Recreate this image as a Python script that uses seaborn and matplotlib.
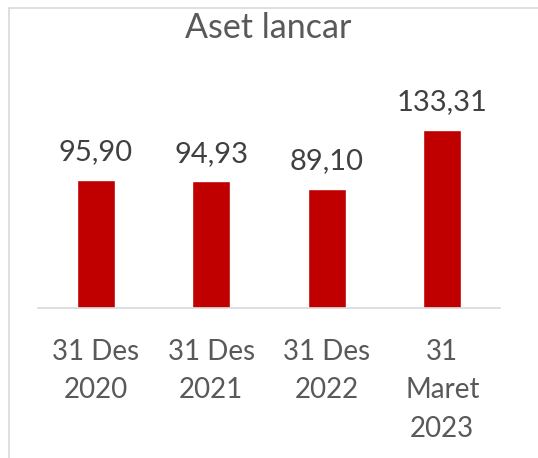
import matplotlib
matplotlib.use("Agg")
import matplotlib.pyplot as plt
import seaborn as sns
import pandas as pd
from matplotlib.patches import Rectangle

categories = ["31 Des\n2020", "31 Des\n2021", "31 Des\n2022", "31\nMaret\n2023"]
values = [95.90, 94.93, 89.10, 133.31]
value_labels = ["95,90", "94,93", "89,10", "133,31"]

BAR_COLOR = "#C00000"
TEXT_COLOR = "#595959"
LABEL_COLOR = "#404040"
LINE_COLOR = "#D9D9D9"

sns.set_style("white")
plt.rcParams["font.family"] = ["Lato", "DejaVu Sans"]

df = pd.DataFrame({"Periode": categories, "Nilai": values})

fig = plt.figure(figsize=(5.38, 4.58), dpi=100)
W, H = 538, 458
ax = fig.add_axes([38 / W, 1 - 308 / H, 462 / W, (308 - 94) / H])

sns.barplot(data=df, x="Periode", y="Nilai", color=BAR_COLOR,
            width=0.333, saturation=1, ax=ax)

ax.set_ylim(0, 160)
ax.set_xlim(-0.5, 3.5)
ax.set_yticks([])
ax.set_xlabel("")
ax.set_ylabel("")
for side in ["left", "right", "top"]:
    ax.spines[side].set_visible(False)
ax.spines["bottom"].set_color(LINE_COLOR)
ax.spines["bottom"].set_linewidth(1.2)

ax.tick_params(axis="x", length=0, pad=22, labelsize=20, labelcolor=TEXT_COLOR)
for lbl in ax.get_xticklabels():
    lbl.set_linespacing(1.6)

for i, (v, txt) in enumerate(zip(values, value_labels)):
    ax.annotate(txt, (i, v), xytext=(0, 14), textcoords="offset points",
                ha="center", va="baseline", fontsize=21, color=LABEL_COLOR)

fig.text(268 / W, 1 - 38 / H, "Aset lancar", ha="center", va="baseline",
         fontsize=24.5, color=TEXT_COLOR)

fig.patches.append(Rectangle((9 / W, -0.1), 1.2, 1.1 - 8 / H,
                             transform=fig.transFigure, fill=False,
                             edgecolor=LINE_COLOR, linewidth=1.2))

fig.savefig("out.png", dpi=100)
